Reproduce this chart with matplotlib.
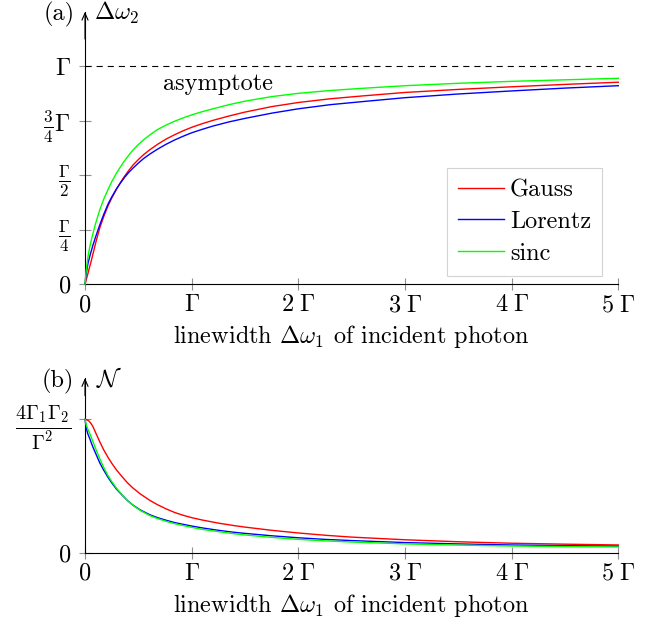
import matplotlib
matplotlib.use("Agg")
import matplotlib.pyplot as plt

plt.rcParams['font.family'] = 'serif'
plt.rcParams['font.serif'] = ['cmr10', 'DejaVu Serif']
plt.rcParams['mathtext.fontset'] = 'cm'
plt.rcParams['axes.formatter.use_mathtext'] = True

# ---------------- data ----------------
series_names = ['Gauss', 'Lorentz', 'sinc']
series_colors = ['#ff0000', '#0000ff', '#00ff00']

# panel (a): output linewidth  Δω2 / Γ  vs  Δω1 / Γ
x_top = [0, 0.01, 0.028, 0.044, 0.06, 0.075, 0.1, 0.138, 0.175, 0.216, 0.25, 0.294,
         0.33, 0.37, 0.41, 0.45, 0.5, 0.55, 0.607, 0.68, 0.763, 0.84, 0.919, 1.0,
         1.1, 1.2, 1.35, 1.5, 1.75, 2.0, 2.3, 2.6, 3.0, 3.5, 4.0, 4.5, 5.0]
gauss_top = [0, 0.018, 0.05, 0.081, 0.11, 0.14, 0.19, 0.258, 0.31, 0.36, 0.395, 0.435,
             0.465, 0.495, 0.522, 0.547, 0.572, 0.595, 0.617, 0.642, 0.667, 0.686,
             0.704, 0.720, 0.737, 0.752, 0.772, 0.790, 0.815, 0.834, 0.851, 0.864,
             0.880, 0.894, 0.906, 0.917, 0.927]
lorentz_top = [0, 0.045, 0.096, 0.127, 0.155, 0.18, 0.218, 0.272, 0.32, 0.368, 0.40,
               0.437, 0.463, 0.49, 0.513, 0.533, 0.556, 0.577, 0.597, 0.62, 0.643,
               0.662, 0.679, 0.695, 0.711, 0.726, 0.745, 0.761, 0.785, 0.805, 0.824,
               0.838, 0.856, 0.873, 0.887, 0.900, 0.911]
sinc_top = [0, 0.06, 0.127, 0.17, 0.205, 0.234, 0.28, 0.341, 0.39, 0.435, 0.47, 0.509,
            0.537, 0.566, 0.592, 0.616, 0.641, 0.663, 0.685, 0.71, 0.731, 0.748, 0.763,
            0.777, 0.792, 0.805, 0.824, 0.840, 0.861, 0.876, 0.889, 0.899, 0.911,
            0.922, 0.931, 0.938, 0.945]

# panel (b): normalised N  vs  Δω1 / Γ
x_bot = [0, 0.0125, 0.025, 0.035, 0.044, 0.06, 0.075, 0.1, 0.138, 0.175, 0.216, 0.25,
         0.294, 0.35, 0.4, 0.45, 0.52, 0.607, 0.68, 0.763, 0.84, 0.919, 1.0, 1.1, 1.25,
         1.4, 1.5, 1.75, 2.0, 2.25, 2.5, 3.0, 3.5, 4.0, 4.5, 5.0]
gauss_bot = [1.0, 0.998, 0.994, 0.989, 0.982, 0.965, 0.945, 0.90, 0.833, 0.772, 0.715,
             0.672, 0.622, 0.568, 0.523, 0.485, 0.44, 0.393, 0.36, 0.328, 0.302, 0.281,
             0.263, 0.245, 0.222, 0.203, 0.192, 0.168, 0.148, 0.131, 0.117, 0.097,
             0.082, 0.071, 0.064, 0.058]
lorentz_bot = [1.0, 0.933, 0.895, 0.875, 0.858, 0.822, 0.791, 0.745, 0.675, 0.62, 0.565,
               0.525, 0.478, 0.43, 0.39, 0.357, 0.32, 0.285, 0.263, 0.243, 0.226, 0.213,
               0.200, 0.186, 0.168, 0.153, 0.145, 0.127, 0.112, 0.100, 0.091, 0.076,
               0.066, 0.058, 0.053, 0.049]
sinc_bot = [1.0, 0.958, 0.93, 0.912, 0.896, 0.862, 0.833, 0.78, 0.706, 0.64, 0.578,
            0.535, 0.485, 0.432, 0.39, 0.355, 0.316, 0.279, 0.256, 0.235, 0.218, 0.204,
            0.190, 0.175, 0.158, 0.142, 0.133, 0.115, 0.100, 0.089, 0.080, 0.066,
            0.057, 0.050, 0.046, 0.043]

x_ticks = [0, 1, 2, 3, 4, 5]
x_ticklabels = ['0', r'$\Gamma$', r'$2\;\Gamma$', r'$3\;\Gamma$', r'$4\;\Gamma$', r'$5\;\Gamma$']
y_ticks_top = [0, 0.25, 0.5, 0.75, 1.0]
y_ticklabels_top = ['0', r'$\frac{\Gamma}{4}$', r'$\frac{\Gamma}{2}$',
                    r'$\frac{3}{4}\Gamma$', r'$\Gamma$']
y_ticks_bot = [0, 1.0]
y_ticklabels_bot = ['0', r'$\frac{4\Gamma_1\Gamma_2}{\Gamma^2}$']
asymptote_value = 1.0
xlabel_text = r'linewidth $\Delta\omega_1$ of incident photon'

# ---------------- figure ----------------
W, H = 665, 624
fig = plt.figure(figsize=(W / 100, H / 100), dpi=100)

def frac_rect(x0, y_bottom, x1, y_top):
    return [x0 / W, 1 - y_bottom / H, (x1 - x0) / W, (y_bottom - y_top) / H]

ax1 = fig.add_axes(frac_rect(85, 284.3, 618.3, 11.8))
ax2 = fig.add_axes(frac_rect(85, 552.7, 618.3, 378.1))

FS = 17.5
tick_grey = '#8f8f8f'

def style_axis(ax, ylim):
    ax.set_xlim(0, 5)
    ax.set_ylim(*ylim)
    for s in ['top', 'right']:
        ax.spines[s].set_visible(False)
    for s in ['left', 'bottom']:
        ax.spines[s].set_color('black')
        ax.spines[s].set_linewidth(0.8)
    ax.tick_params(direction='inout', length=8, width=0.8, color=tick_grey,
                   labelsize=FS, labelcolor='black')
    ax.tick_params(axis='y', pad=6)
    ax.tick_params(axis='x', pad=3)
    ax.set_xticks(x_ticks)
    ax.set_xticklabels(x_ticklabels)
    ax.annotate('', xy=(0, 1.0), xytext=(0, 0.9), xycoords='axes fraction',
                arrowprops=dict(arrowstyle='->,head_length=0.5,head_width=0.22',
                                lw=0.8, color='black', shrinkA=0, shrinkB=0))

style_axis(ax1, (0, 1.25))
style_axis(ax2, (0, 1.31))

ax1.set_yticks(y_ticks_top)
ax1.set_yticklabels(y_ticklabels_top)
ax2.set_yticks(y_ticks_bot)
ax2.set_yticklabels(y_ticklabels_bot)
ax2.get_yticklabels()[1].set_fontsize(21)

tops = [gauss_top, lorentz_top, sinc_top]
bots = [gauss_bot, lorentz_bot, sinc_bot]
for name, col, yt, yb in zip(series_names, series_colors, tops, bots):
    ax1.plot(x_top, yt, color=col, lw=1.0, label=name, clip_on=False, zorder=3,
             solid_joinstyle='round')
    ax2.plot(x_bot, yb, color=col, lw=1.0, clip_on=False, zorder=3,
             solid_joinstyle='round')

ax1.axhline(asymptote_value, color='black', lw=0.8, ls=(0, (5.5, 4.5)))
ax1.text(1.25, 0.891, 'asymptote', fontsize=FS, ha='center', va='baseline')

leg = ax1.legend(loc='lower right', bbox_to_anchor=(0.970, 0.0316), borderaxespad=0,
                 fontsize=FS, frameon=True, fancybox=False, handlelength=1.9,
                 handletextpad=0.25, borderpad=0.45, labelspacing=0.4)
leg.get_frame().set_edgecolor('#c8c8c8')
leg.get_frame().set_linewidth(0.8)

# axis labels / panel labels
fig.text(351.5 / W, 1 - 343.3 / H, xlabel_text, fontsize=FS, ha='center', va='baseline')
fig.text(351.5 / W, 1 - 611.7 / H, xlabel_text, fontsize=FS, ha='center', va='baseline')
fig.text(59 / W, 1 - 20 / H, '(a)', fontsize=FS, ha='center', va='baseline')
fig.text(94 / W, 1 - 20 / H, r'$\Delta\omega_2$', fontsize=FS, ha='left', va='baseline')
fig.text(58 / W, 1 - 387 / H, '(b)', fontsize=FS, ha='center', va='baseline')
fig.text(96 / W, 1 - 387 / H, r'$\mathcal{N}$', fontsize=FS, ha='left', va='baseline')

fig.savefig('out.png', dpi=100)
